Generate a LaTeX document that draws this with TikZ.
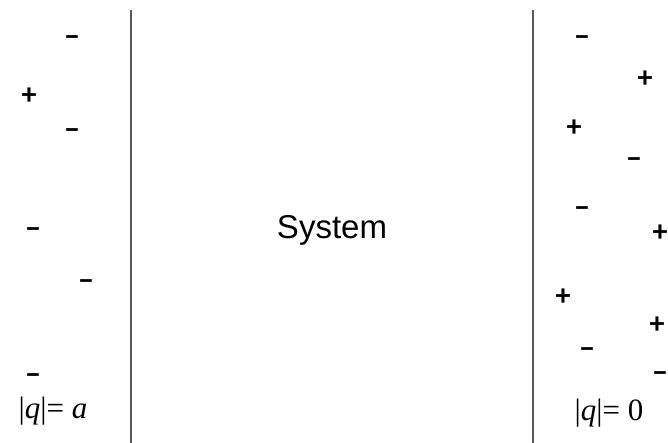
\documentclass[tikz,border=0pt]{standalone}
\usepackage{fontspec}
\newfontfamily\signfont{Carlito}
\newfontfamily\sysfont{Liberation Sans}
\newfontfamily\labfont{Liberation Serif}
\begin{document}
\begin{tikzpicture}[x=1pt,y=-1pt,
  sign/.style={inner sep=0pt,font=\signfont\bfseries\fontsize{30}{34}\selectfont},
  wall/.style={draw=black!65,line width=2.3pt},
  lab/.style={inner sep=0pt,font=\labfont\fontsize{31}{36}\selectfont}]
\useasboundingbox (0,0) rectangle (668,443);
% walls
\coordinate (l1) at (131,10); \coordinate (l2) at (131,443);
\coordinate (r1) at (533,10); \coordinate (r2) at (533,443);
\draw[wall] (l1) -- (l2);
\draw[wall] (r1) -- (r2);
% system
\node[inner sep=0pt,font=\sysfont\fontsize{33}{38}\selectfont] (sys) at (332,230) {System};
% left charges
\node[sign] (a1) at (72,41) {−};
\node[sign] (a2) at (29,96) {+};
\node[sign] (a3) at (72,134) {−};
\node[sign] (a4) at (33,233) {−};
\node[sign] (a5) at (86,285) {−};
\node[sign] (a6) at (33,379) {−};
\node[lab] (qa) at (53,411) {|\textit{q}|= \textit{a}};
% right charges
\node[sign] (b1) at (582,41) {−};
\node[sign] (b2) at (645,79) {+};
\node[sign] (b3) at (574,128) {+};
\node[sign] (b4) at (634,163) {−};
\node[sign] (b5) at (582,212) {−};
\node[sign] (b6) at (660,233) {+};
\node[sign] (b7) at (563,297) {+};
\node[sign] (b8) at (657,325) {+};
\node[sign] (b9) at (587,353) {−};
\node[sign] (b10) at (660,377) {−};
\node[lab] (q0) at (609,413) {|\textit{q}|= 0};
\end{tikzpicture}
\end{document}
